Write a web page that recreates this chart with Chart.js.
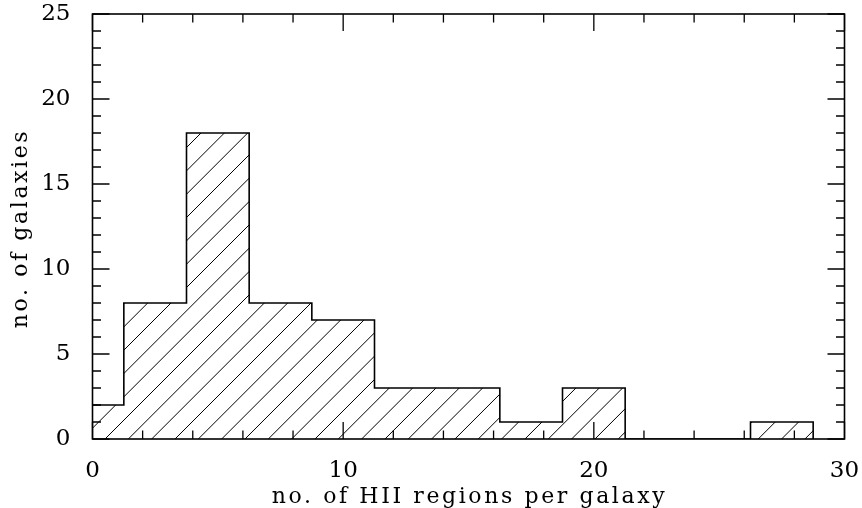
<!DOCTYPE html>
<html>
<head>
<meta charset="utf-8">
<script src="https://cdn.jsdelivr.net/npm/chart.js@4.4.1/dist/chart.umd.min.js"></script>
<style>
  html, body { margin: 0; padding: 0; background: #fff; }
  #wrap { width: 862px; height: 508px; }
</style>
</head>
<body>
<div id="wrap"><canvas id="c"></canvas></div>
<script>
// ---- data ----
const binCenters = [0, 2.5, 5, 7.5, 10, 12.5, 15, 17.5, 20, 22.5, 25, 27.5];
const counts     = [2, 8, 18, 8, 7, 3, 3, 1, 3, 0, 0, 1];
const binWidth = 2.5;
const xTickLabels = [0, 10, 20, 30];
const yTickLabels = [0, 5, 10, 15, 20, 25];
const xTitle = 'no. of HII regions per galaxy';
const yTitle = 'no. of galaxies';

// step outline points (left edge of each bin, plus closing edge)
const stepPts = binCenters.map((c, i) => ({ x: c - binWidth / 2, y: counts[i] }));
stepPts.push({ x: binCenters[binCenters.length - 1] + binWidth / 2, y: 0 });

const FONT = '"DejaVu Serif", "Liberation Serif", serif';

const framePlugin = {
  id: 'frame',
  beforeDatasetsDraw(chart) {
    const { ctx, chartArea: a, scales: { x, y } } = chart;
    ctx.save();
    ctx.beginPath();
    ctx.rect(a.left, a.top, a.right - a.left, a.bottom - a.top);
    ctx.clip();
    ctx.beginPath();
    const y0 = y.getPixelForValue(0);
    for (let i = 0; i < binCenters.length; i++) {
      if (!counts[i]) continue;
      const xl = x.getPixelForValue(binCenters[i] - binWidth / 2);
      const xr = x.getPixelForValue(binCenters[i] + binWidth / 2);
      const yt = y.getPixelForValue(counts[i]);
      ctx.rect(xl, yt, xr - xl, y0 - yt);
    }
    ctx.clip();
    ctx.strokeStyle = '#000';
    ctx.lineWidth = 1;
    const sp = 23.33;
    const base = 105 + a.bottom;
    ctx.beginPath();
    for (let k = -40; k < 60; k++) {
      const C = base + k * sp;
      ctx.moveTo(C - a.bottom, a.bottom);
      ctx.lineTo(C - a.top, a.top);
    }
    ctx.stroke();
    ctx.restore();
  },
  afterDraw(chart) {
    const { ctx, chartArea: a, scales: { x, y } } = chart;
    ctx.save();
    ctx.strokeStyle = '#000';
    ctx.lineWidth = 1.6;
    ctx.strokeRect(a.left, a.top, a.right - a.left, a.bottom - a.top);
    ctx.lineWidth = 1.3;
    ctx.beginPath();
    for (let v = 0; v <= 30; v += 2) {
      const px = x.getPixelForValue(v);
      const len = v % 10 === 0 ? 17 : 8.5;
      ctx.moveTo(px, a.bottom); ctx.lineTo(px, a.bottom - len);
      ctx.moveTo(px, a.top); ctx.lineTo(px, a.top + len);
    }
    for (let v = 0; v <= 25; v += 1) {
      const py = y.getPixelForValue(v);
      const len = v % 5 === 0 ? 17 : 8.5;
      ctx.moveTo(a.left, py); ctx.lineTo(a.left + len, py);
      ctx.moveTo(a.right, py); ctx.lineTo(a.right - len, py);
    }
    ctx.stroke();
    // axis titles
    ctx.fillStyle = '#000';
    ctx.font = '22px ' + FONT;
    ctx.textAlign = 'center';
    ctx.textBaseline = 'alphabetic';
    try { ctx.letterSpacing = '2.6px'; } catch (e) {}
    ctx.fillText(xTitle, (a.left + a.right) / 2 + 1, 503);
    ctx.translate(27, (a.top + a.bottom) / 2 + 2);
    ctx.rotate(-Math.PI / 2);
    ctx.fillText(yTitle, 0, 0);
    ctx.restore();
  }
};

new Chart(document.getElementById('c'), {
  type: 'line',
  data: {
    datasets: [{
      data: stepPts,
      stepped: 'before',
      borderColor: '#000',
      borderWidth: 1.6,
      pointRadius: 0,
      fill: false,
      tension: 0
    }]
  },
  options: {
    responsive: true,
    maintainAspectRatio: false,
    animation: false,
    layout: { padding: { top: 14, right: 17.5, left: 0, bottom: 0 } },
    plugins: { legend: { display: false }, tooltip: { enabled: false } },
    scales: {
      x: {
        type: 'linear', min: 0, max: 30,
        afterBuildTicks(s) { s.ticks = xTickLabels.map(v => ({ value: v })); },
        afterFit(s) { s.height = 69; s.paddingLeft = 0; s.paddingRight = 0; },
        grid: { display: false },
        border: { display: false },
        ticks: { color: '#000', padding: 10, maxRotation: 0, font: { family: FONT, size: 23 } }
      },
      y: {
        type: 'linear', min: 0, max: 25,
        afterBuildTicks(s) { s.ticks = yTickLabels.map(v => ({ value: v })); },
        afterFit(s) { s.width = 92.5; s.paddingTop = 0; s.paddingBottom = 0; },
        grid: { display: false },
        border: { display: false },
        ticks: { color: '#000', padding: 14, font: { family: FONT, size: 23 } }
      }
    }
  },
  plugins: [framePlugin]
});
</script>
</body>
</html>
